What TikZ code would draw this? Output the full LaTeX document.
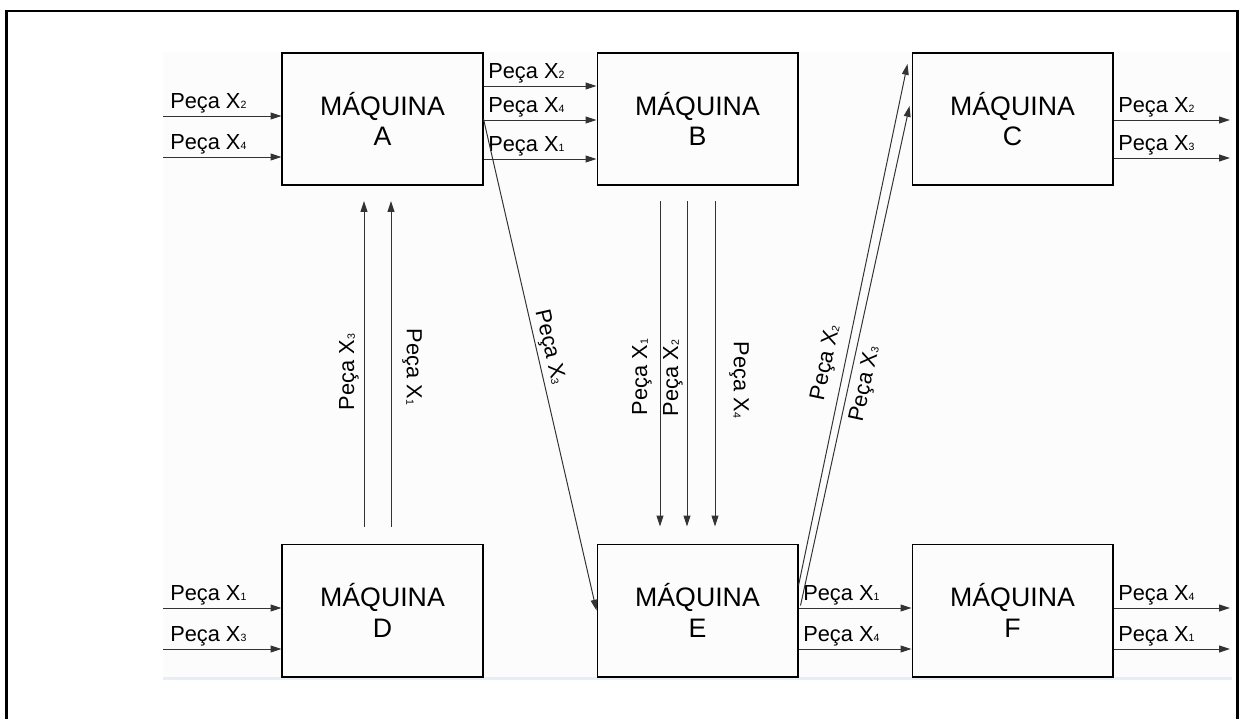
\documentclass[tikz,border=0pt]{standalone}
\usepackage{fontspec}
\setmainfont{Liberation Sans}
\usetikzlibrary{arrows.meta,calc}
% small lowered index after the part name
\newcommand\pcsub[1]{\raisebox{-0.4pt}{\fontsize{7.5}{8}\selectfont #1}}
\newcommand\peca[1]{Peça X\pcsub{#1}}
\definecolor{insetbg}{HTML}{FCFCFC}
\definecolor{insetline}{HTML}{E9EEF6}
\definecolor{flow}{HTML}{333333}

\begin{document}
\begin{tikzpicture}[x=0.025cm, y=-0.025cm,
  machine/.style={draw=black, line width=1.4pt, minimum width=5cm, minimum height=3.3cm,
    inner sep=0pt, align=center, font=\fontsize{19}{21.5}\selectfont},
  flowarrow/.style={draw=flow, line width=0.7pt, -{Triangle[length=0.27cm,width=0.17cm]}},
  lbl/.style={font=\fontsize{15.5}{16}\selectfont, inner sep=0pt},
]
\useasboundingbox (0,0) rectangle (1240,718);

% sheet background and page frame
\fill[insetbg] (163,52) rectangle (1232,677);
\draw[insetline, line width=1.5pt] (163,678.5) -- (1232,678.5);
\draw[line width=1.8pt] (6.5,730) -- (6.5,11) -- (1237.5,11) -- (1237.5,730);

% machines
\node[machine] (A) at (382.5,119)   {MÁQUINA\\A};
\node[machine] (B) at (697.5,119)   {MÁQUINA\\B};
\node[machine] (C) at (1012.5,119)  {MÁQUINA\\C};
\node[machine] (D) at (382.5,610.5) {MÁQUINA\\D};
\node[machine] (E) at (697.5,610.5) {MÁQUINA\\E};
\node[machine] (F) at (1012.5,610.5){MÁQUINA\\F};

% row heights of the horizontal flows
\coordinate (inA1) at (163,116);
\coordinate (inA2) at (163,157);
\coordinate (ab1) at (0,86);
\coordinate (ab2) at (0,120);
\coordinate (ab3) at (0,159);
\coordinate (outC1) at (1230,120);
\coordinate (outC2) at (1230,158);
\coordinate (inD1) at (163,608);
\coordinate (inD2) at (163,649);
\coordinate (ef1) at (0,608);
\coordinate (ef2) at (0,649);
\coordinate (outF1) at (1230,608);
\coordinate (outF2) at (1230,649);

% inputs of A
\draw[flowarrow] (inA1) -- (inA1 -| A.west);
\draw[flowarrow] (inA2) -- (inA2 -| A.west);
\node[lbl, anchor=base west] (lA1) at (170,108) {\peca{2}};
\node[lbl, anchor=base west] (lA2) at (170,149) {\peca{4}};

% A to B
\draw[flowarrow] (A.east |- ab1) -- (B.west |- ab1);
\draw[flowarrow] (A.east |- ab2) -- (B.west |- ab2);
\draw[flowarrow] (A.east |- ab3) -- (B.west |- ab3);
\node[lbl, anchor=base west] (lAB1) at (488,78)  {\peca{2}};
\node[lbl, anchor=base west] (lAB2) at (488,112) {\peca{4}};
\node[lbl, anchor=base west] (lAB3) at (488,151) {\peca{1}};

% outputs of C
\draw[flowarrow] (outC1 -| C.east) -- (outC1);
\draw[flowarrow] (outC2 -| C.east) -- (outC2);
\node[lbl, anchor=base west] (lC1) at (1118,112) {\peca{2}};
\node[lbl, anchor=base west] (lC2) at (1118,150) {\peca{3}};

% inputs of D
\draw[flowarrow] (inD1) -- (inD1 -| D.west);
\draw[flowarrow] (inD2) -- (inD2 -| D.west);
\node[lbl, anchor=base west] (lD1) at (170,600) {\peca{1}};
\node[lbl, anchor=base west] (lD2) at (170,641) {\peca{3}};

% E to F
\draw[flowarrow] (E.east |- ef1) -- (F.west |- ef1);
\draw[flowarrow] (E.east |- ef2) -- (F.west |- ef2);
\node[lbl, anchor=base west] (lEF1) at (803,600) {\peca{1}};
\node[lbl, anchor=base west] (lEF2) at (803,641) {\peca{4}};

% outputs of F
\draw[flowarrow] (outF1 -| F.east) -- (outF1);
\draw[flowarrow] (outF2 -| F.east) -- (outF2);
\node[lbl, anchor=base west] (lF1) at (1118,600) {\peca{4}};
\node[lbl, anchor=base west] (lF2) at (1118,641) {\peca{1}};

% D up to A
\coordinate (da1) at (364,0);
\coordinate (da2) at (391,0);
\draw[flowarrow, shorten <=0.425cm, shorten >=0.375cm] (D.north -| da1) -- (A.south -| da1);
\draw[flowarrow, shorten <=0.425cm, shorten >=0.375cm] (D.north -| da2) -- (A.south -| da2);
\node[lbl, rotate=90]  (lDA1) at (349,372) {\peca{3}};
\node[lbl, rotate=-90] (lDA2) at (412,367) {\peca{1}};

% B down to E
\coordinate (be1) at (660,0);
\coordinate (be2) at (687,0);
\coordinate (be3) at (715,0);
\draw[flowarrow, shorten <=0.375cm, shorten >=0.425cm] (B.south -| be1) -- (E.north -| be1);
\draw[flowarrow, shorten <=0.375cm, shorten >=0.425cm] (B.south -| be2) -- (E.north -| be2);
\draw[flowarrow, shorten <=0.375cm, shorten >=0.425cm] (B.south -| be3) -- (E.north -| be3);
\node[lbl, rotate=90]  (lBE1) at (642,377) {\peca{1}};
\node[lbl, rotate=90]  (lBE2) at (673,378) {\peca{2}};
\node[lbl, rotate=-90] (lBE3) at (739,380) {\peca{4}};

% A down to E
\draw[flowarrow] (A.east) -- (E.west)
  node[lbl, sloped, pos=0.47, above=0.06cm] (lAE) {\peca{3}};

% E up to C
\coordinate (ec1s) at ($(E.east)+(0,-25)$);
\coordinate (ec1e) at ($(C.west)+(-4,-55)$);
\coordinate (ec2s) at ($(E.east)+(2,-5)$);
\coordinate (ec2e) at ($(C.west)+(-2,-13)$);
\draw[flowarrow] (ec1s) -- (ec1e)
  node[lbl, sloped, pos=0.42, above=0.2cm] (lEC1) {\peca{2}};
\draw[flowarrow] (ec2s) -- (ec2e)
  node[lbl, sloped, pos=0.45, below=0.15cm] (lEC2) {\peca{3}};
\end{tikzpicture}
\end{document}
